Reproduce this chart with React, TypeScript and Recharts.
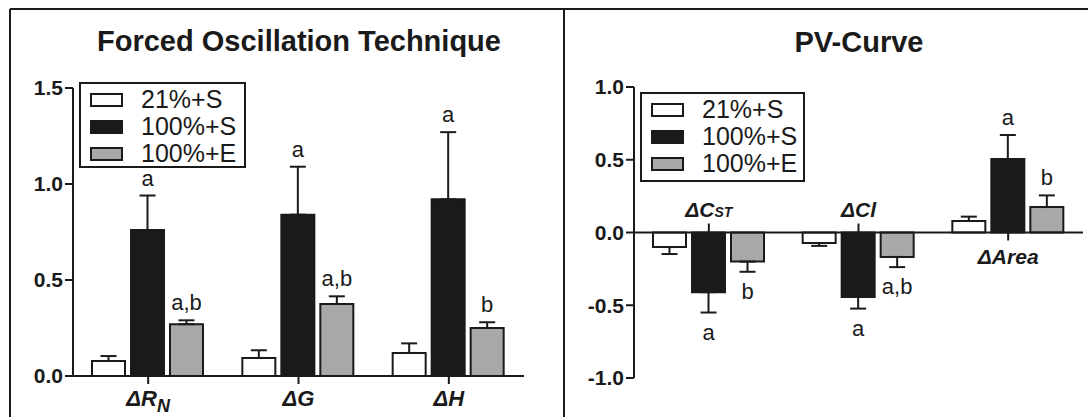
import React from 'react';
import {
  BarChart,
  Bar,
  XAxis,
  YAxis,
  ErrorBar,
  LabelList,
  Legend,
  ReferenceLine,
  ReferenceDot,
} from 'recharts';

const FONT = '"Liberation Sans", Arial, Helvetica, sans-serif';
const INK = '#1a1a1a';

// ---------- shared series ----------
const seriesNames = ['21%+S', '100%+S', '100%+E'];
const seriesFills = ['#ffffff', '#1a1a1a', '#a8a8a8'];

// ---------- Forced Oscillation Technique ----------
const fotCategories = ['ΔR', 'ΔG', 'ΔH'];
const fotCategorySub = ['N', '', ''];
const fot21S = [0.078, 0.094, 0.12];
const fot21SErr = [0.026, 0.04, 0.05];
const fot100S = [0.76, 0.84, 0.92];
const fot100SErr = [0.18, 0.25, 0.35];
const fot100E = [0.27, 0.375, 0.25];
const fot100EErr = [0.02, 0.04, 0.03];
const fot100SLabels = ['a', 'a', 'a'];
const fot100ELabels = ['a,b', 'a,b', 'b'];
const fotTicks = [0, 0.5, 1.0, 1.5];

// ---------- PV-Curve ----------
const pvCategories = ['ΔC', 'ΔCl', 'ΔArea'];
const pvCategorySub = ['ST', '', ''];
const pv21S = [-0.1, -0.072, 0.079];
const pv21SErr = [0.048, 0.02, 0.03];
const pv100S = [-0.41, -0.443, 0.505];
const pv100SErr = [0.14, 0.08, 0.165];
const pv100E = [-0.2, -0.168, 0.175];
const pv100EErr = [0.07, 0.07, 0.08];
const pv100SLabels = ['a', 'a', 'a'];
const pv100ELabels = ['b', 'a,b', 'b'];
const pvTicks = [-1.0, -0.5, 0, 0.5, 1.0];

const oneSided = (v: number, e: number) => (v >= 0 ? [0, e] : [e, 0]);

function buildRows(
  cats: string[],
  subs: string[],
  vals: number[][],
  errs: number[][],
  labels: string[][]
) {
  return cats.map((c, i) => ({
    cat: c + subs[i],
    s0: vals[0][i],
    s0Err: oneSided(vals[0][i], errs[0][i]),
    s1: vals[1][i],
    s1Err: oneSided(vals[1][i], errs[1][i]),
    s2: vals[2][i],
    s2Err: oneSided(vals[2][i], errs[2][i]),
    l1: labels[0][i],
    l2: labels[1][i],
  }));
}

const fotRows = buildRows(
  fotCategories,
  fotCategorySub,
  [fot21S, fot100S, fot100E],
  [fot21SErr, fot100SErr, fot100EErr],
  [fot100SLabels, fot100ELabels]
);
const pvRows = buildRows(
  pvCategories,
  pvCategorySub,
  [pv21S, pv100S, pv100E],
  [pv21SErr, pv100SErr, pv100EErr],
  [pv100SLabels, pv100ELabels]
);

const makeSigLabel = (vals: number[], errs: number[]) => (props: any) => {
  const vb = props.viewBox || {};
  const x = props.x ?? vb.x;
  const y = props.y ?? vb.y;
  const width = props.width ?? vb.width;
  const height = props.height ?? vb.height;
  const { value, index } = props;
  if (!value || index == null) return null;
  const v = vals[index];
  const e = errs[index];
  const h = Number(height);
  const top = Math.min(y, y + h);
  const bottom = Math.max(y, y + h);
  const pxPerUnit = Math.abs(h) / Math.abs(v);
  const cx = x + width / 2;
  const ty = v >= 0 ? top - e * pxPerUnit - 10 : bottom + e * pxPerUnit + 27;
  return (
    <text
      x={cx}
      y={ty}
      textAnchor="middle"
      fontFamily={FONT}
      fontSize={22}
      fill={INK}
    >
      {value}
    </text>
  );
};

const LegendBox = ({ width, height }: { width: number; height: number }) => (
  <div
    style={{
      width,
      height,
      boxSizing: 'border-box',
      border: `2px solid ${INK}`,
      background: '#fff',
      fontFamily: FONT,
      fontSize: 25,
      color: INK,
      paddingTop: 2,
      lineHeight: '27px',
    }}
  >
    {seriesNames.map((n, i) => (
      <div key={n} style={{ display: 'flex', alignItems: 'center', height: 27 }}>
        <span
          style={{
            display: 'inline-block',
            boxSizing: 'border-box',
            width: 33,
            height: 14,
            background: seriesFills[i],
            border: `2px solid ${INK}`,
            marginLeft: 9,
            marginRight: 18,
          }}
        />
        {n}
      </div>
    ))}
  </div>
);

const FotTick = (props: any) => {
  const { x, y, index } = props;
  return (
    <text
      x={x}
      y={y + 22}
      textAnchor="middle"
      fontFamily={FONT}
      fontSize={22}
      fontWeight="bold"
      fontStyle="italic"
      fill={INK}
    >
      {fotCategories[index]}
      {fotCategorySub[index] ? (
        <tspan fontSize={18} dy={6}>
          {fotCategorySub[index]}
        </tspan>
      ) : null}
    </text>
  );
};

const makePvMark = (i: number) => (props: any) => {
  const { cx, cy } = props;
  const up = pv100S[i] < 0;
  return (
    <g>
      <line
        x1={cx}
        x2={cx}
        y1={cy}
        y2={up ? cy - 9 : cy + 8}
        stroke={INK}
        strokeWidth={2}
      />
      <text
        x={cx}
        y={up ? cy - 16 : cy + 31}
        textAnchor="middle"
        fontFamily={FONT}
        fontSize={21}
        fontWeight="bold"
        fontStyle="italic"
        fill={INK}
      >
        {pvCategories[i]}
        {pvCategorySub[i] ? <tspan fontSize={14}>{pvCategorySub[i]}</tspan> : null}
      </text>
    </g>
  );
};

const yTickStyle = { fill: INK, fontSize: 21, fontWeight: 'bold', fontFamily: FONT };
const axisStroke = { stroke: INK, strokeWidth: 2 };

const seriesBars = (vals: number[][], errs: number[][]) =>
  [0, 1, 2].map((s) => (
    <Bar
      key={s}
      dataKey={`s${s}`}
      name={seriesNames[s]}
      fill={seriesFills[s]}
      stroke={INK}
      strokeWidth={2}
      isAnimationActive={false}
    >
      <ErrorBar
        dataKey={`s${s}Err`}
        direction="y"
        width={8}
        stroke={INK}
        strokeWidth={2}
        isAnimationActive={false}
      />
      {s > 0 ? (
        <LabelList dataKey={`l${s}`} content={makeSigLabel(vals[s], errs[s])} />
      ) : null}
    </Bar>
  ));

export default function App() {
  return (
    <div
      style={{
        position: 'absolute',
        left: 0,
        top: 0,
        width: 1088,
        height: 417,
        background: '#fff',
        overflow: 'hidden',
      }}
    >
      <div style={{ position: 'absolute', left: 0, top: 0 }}>
        <BarChart
          width={544}
          height={417}
          data={fotRows}
          margin={{ top: 88, right: 20, bottom: 11, left: 13 }}
          barCategoryGap={19}
          barGap={6}
        >
          <XAxis
            dataKey="cat"
            height={30}
            axisLine={axisStroke}
            tickLine={axisStroke}
            tickSize={8}
            tickMargin={0}
            tick={<FotTick />}
            interval={0}
          />
          <YAxis
            domain={[0, 1.5]}
            ticks={fotTicks}
            interval={0}
            width={60}
            axisLine={axisStroke}
            tickLine={axisStroke}
            tickSize={8}
            tick={yTickStyle}
            tickFormatter={(v: number) => v.toFixed(1)}
          />
          <Legend
            layout="horizontal"
            verticalAlign="middle"
            align="center"
            width={167}
            wrapperStyle={{ left: 79, top: 82, width: 167, height: 86 }}
            content={() => <LegendBox width={167} height={86} />}
          />
          {seriesBars([fot21S, fot100S, fot100E], [fot21SErr, fot100SErr, fot100EErr])}
        </BarChart>
      </div>

      <div style={{ position: 'absolute', left: 544, top: 0 }}>
        <BarChart
          width={544}
          height={417}
          data={pvRows}
          margin={{ top: 87, right: 5, bottom: 39, left: 30 }}
          barCategoryGap={19}
          barGap={6}
        >
          <XAxis dataKey="cat" hide />
          <YAxis
            domain={[-1, 1]}
            ticks={pvTicks}
            interval={0}
            width={60}
            axisLine={axisStroke}
            tickLine={axisStroke}
            tickSize={8}
            tick={yTickStyle}
            tickFormatter={(v: number) => v.toFixed(1)}
          />
          <Legend
            layout="horizontal"
            verticalAlign="middle"
            align="center"
            width={165}
            wrapperStyle={{ left: 96, top: 92, width: 165, height: 90 }}
            content={() => <LegendBox width={165} height={90} />}
          />
          <ReferenceLine y={0} stroke={INK} strokeWidth={2} />
          {pvRows.map((r, i) => (
            <ReferenceDot key={r.cat} x={r.cat} y={0} r={0} shape={makePvMark(i)} />
          ))}
          {seriesBars([pv21S, pv100S, pv100E], [pv21SErr, pv100SErr, pv100EErr])}
        </BarChart>
      </div>

      <svg
        width={1088}
        height={417}
        style={{ position: 'absolute', left: 0, top: 0, pointerEvents: 'none' }}
      >
        <line x1={10} y1={9} x2={1088} y2={9} stroke={INK} strokeWidth={2} />
        <line x1={10} y1={9} x2={10} y2={417} stroke={INK} strokeWidth={2} />
        <line x1={564} y1={9} x2={564} y2={417} stroke={INK} strokeWidth={2} />
        <text
          x={299}
          y={51}
          textAnchor="middle"
          fontFamily={FONT}
          fontSize={29}
          fontWeight="bold"
          fill={INK}
        >
          Forced Oscillation Technique
        </text>
        <text
          x={859}
          y={52}
          textAnchor="middle"
          fontFamily={FONT}
          fontSize={29}
          fontWeight="bold"
          fill={INK}
        >
          PV-Curve
        </text>
      </svg>
    </div>
  );
}
